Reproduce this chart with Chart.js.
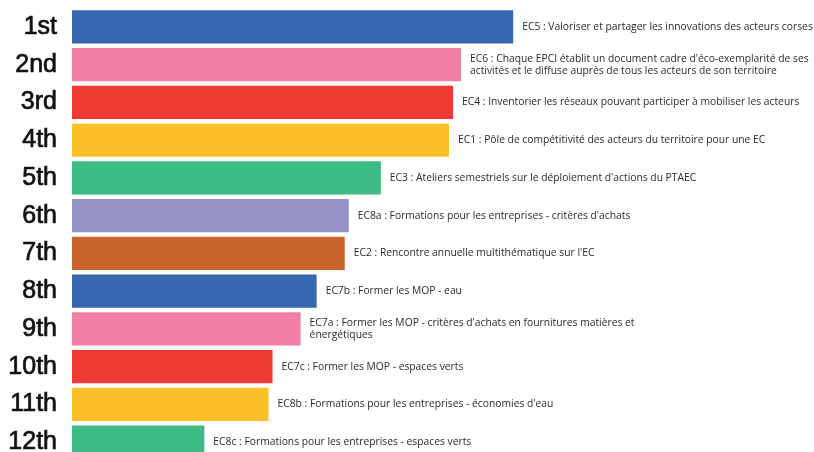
<!DOCTYPE html>
<html>
<head>
<meta charset="utf-8">
<script src="https://cdn.jsdelivr.net/npm/chart.js@4"></script>
<style>
  html,body{margin:0;padding:0;background:#fff;overflow:hidden;}
  #wrap{width:814px;height:461px;position:relative;}
</style>
</head>
<body>
<div id="wrap"><canvas id="chart"></canvas></div>
<script>
// DATA
const ranks = ["1st","2nd","3rd","4th","5th","6th","7th","8th","9th","10th","11th","12th"];

const scores = [110, 97, 95, 94, 77, 69, 68, 61, 57, 50, 49, 33];

const actions = [
  ["EC5 : Valoriser et partager les innovations des acteurs corses"],
  ["EC6 : Chaque EPCI établit un document cadre d'éco-exemplarité de ses",
   "activités et le diffuse auprès de tous les acteurs de son territoire"],
  ["EC4 : Inventorier les réseaux pouvant participer à mobiliser les acteurs"],
  ["EC1 : Pôle de compétitivité des acteurs du territoire pour une EC"],
  ["EC3 : Ateliers semestriels sur le déploiement d'actions du PTAEC"],
  ["EC8a : Formations pour les entreprises - critères d'achats"],
  ["EC2 : Rencontre annuelle multithématique sur l'EC"],
  ["EC7b : Former les MOP - eau"],
  ["EC7a : Former les MOP - critères d'achats en fournitures matières et",
   "énergétiques"],
  ["EC7c : Former les MOP - espaces verts"],
  ["EC8b : Formations pour les entreprises - économies d'eau"],
  ["EC8c : Formations pour les entreprises - espaces verts"]
];

const colors = ["#3867b1","#f07ea6","#ee3a33","#fcc12a","#3dbb84","#9593c7",
                "#c9632a","#3867b1","#f07ea6","#ee3a33","#fcc12a","#3dbb84"];

// LABELS NEXT TO BARS
const barLabels = {
  id:"barLabels",
  afterDatasetsDraw(c){
    let ctx = c.ctx;
    let meta = c.getDatasetMeta(0);
    ctx.save();
    ctx.font = "10.3px 'Open Sans'";
    ctx.fillStyle = "#2b2b2b";
    ctx.textAlign = "left";
    ctx.textBaseline = "middle";
    meta.data.forEach((bar,i)=>{
      let lines = actions[i];
      let lh = 12;
      let y0 = bar.y - (lines.length-1)*lh/2;
      lines.forEach((t,j)=>ctx.fillText(t, bar.x+9, y0+j*lh));
    });
    ctx.restore();
  }
};

new Chart(document.getElementById("chart"),{
  type:"bar",
  data:{
    labels:ranks,
    datasets:[{
      data:scores,
      backgroundColor:colors,
      borderWidth:0,
      barPercentage:0.88,
      categoryPercentage:1
    }]
  },
  options:{
    indexAxis:"y",
    responsive:true,
    maintainAspectRatio:false,
    animation:false,
    layout:{padding:{top:8,right:0,bottom:0,left:0}},
    plugins:{legend:{display:false},tooltip:{enabled:false}},
    scales:{
      x:{display:false,min:0,max:185},
      y:{
        grid:{display:false,drawTicks:false},
        border:{display:false},
        afterFit:s=>{
          s.width = 72;
          s.paddingTop = 0;
          s.paddingBottom = 0;
        },
        ticks:{
          padding:15,
          color:"#111",
          textStrokeColor:"#111",
          textStrokeWidth:0.7,
          font:{family:"'Liberation Sans', Arial",size:25}
        }
      }
    }
  },
  plugins:[barLabels]
});
</script>
</body>
</html>
